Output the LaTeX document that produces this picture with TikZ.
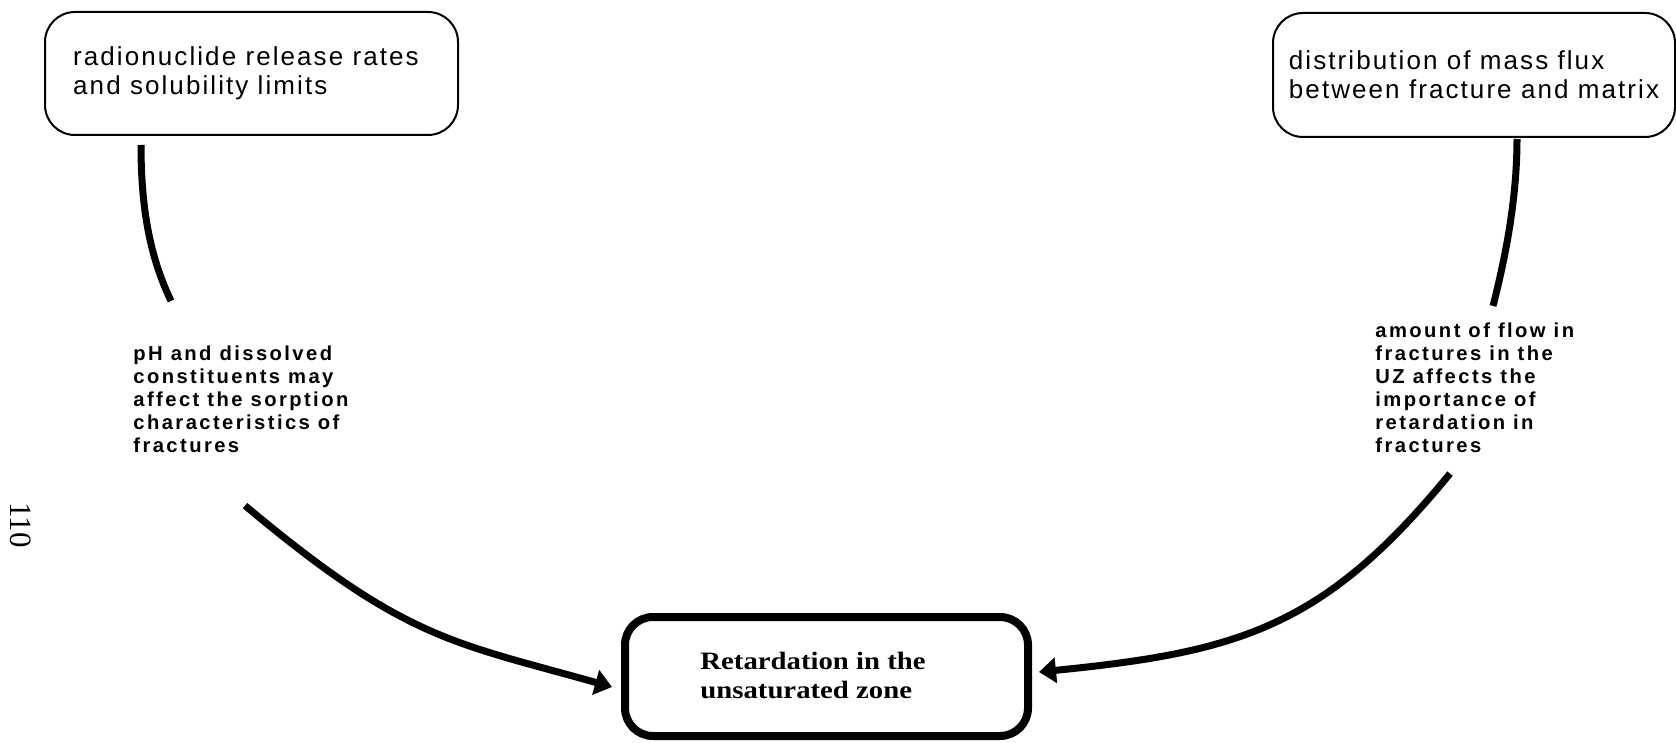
\documentclass[tikz,border=0pt]{standalone}
\usepackage{fontspec}
\usetikzlibrary{arrows.meta}

\newfontfamily\boxfont[LetterSpace=8]{Liberation Sans}
\newfontfamily\notefont[LetterSpace=12]{Liberation Sans}
\newfontfamily\titlefont[FakeStretch=1.15]{Liberation Serif}
\newfontfamily\pagefont{Liberation Serif}

% stacked lines with a fixed baseline distance; baseline = first line
\newcommand\linestack[2]{\vtop{\baselineskip=#1\lineskiplimit=-\maxdimen\lineskip=0pt #2}}

\tikzset{
  srcbox/.style={draw, line width=1pt, rounded corners=15pt, inner sep=0pt,
    font=\boxfont\fontsize{13}{14.25}\selectfont},
  sinkbox/.style={draw, line width=4pt, rounded corners=14pt, inner sep=0pt},
  note/.style={inner sep=0pt, anchor=base west,
    font=\notefont\bfseries\fontsize{10.1}{11.5}\selectfont},
  link/.style={line width=3.5pt},
  arrowlink/.style={link, -{Triangle[length=8.5pt,width=12.5pt]}}
}

\begin{document}
\begin{tikzpicture}[x=0.5pt,y=-0.5pt]
\useasboundingbox (0,0) rectangle (1676,743);

% source boxes
\node[srcbox, minimum width=206.5pt, minimum height=61.5pt] (release) at (251.5,73.5)
  {\linestack{14.25pt}{\hbox{radionuclide release rates}\hbox{and solubility limits}}\kern5.5pt};
\node[srcbox, minimum width=201pt, minimum height=62pt] (flux) at (1474,75)
  {\linestack{14.5pt}{\hbox{distribution of mass flux}\hbox{between fracture and matrix}}};

% explanatory notes
\node[note] (sorption) at (133,360)
  {\linestack{11.5pt}{\hbox{pH and dissolved}\hbox{constituents may}\hbox{affect the sorption}\hbox{characteristics of}\hbox{fractures}}};
\node[note] (flowfrac) at (1375,337)
  {\linestack{11.5pt}{\hbox{amount of flow in}\hbox{fractures in the}\hbox{UZ affects the}\hbox{importance of}\hbox{retardation in}\hbox{fractures}}};

% target box
\node[sinkbox, minimum width=201.5pt, minimum height=59.5pt] (retard) at (826.5,676.5) {};
\node[inner sep=0pt, anchor=base west, font=\titlefont\bfseries\fontsize{12.5}{14.5}\selectfont]
  (retardtext) at (700,669)
  {\linestack{14.75pt}{\hbox{Retardation in the}\hbox{unsaturated zone}}};

% page number
\node[rotate=-90, inner sep=0pt, font=\pagefont\fontsize{15.5}{15.5}\selectfont] (pageno) at (21,525) {110};

% connectors
\draw[link] ([shift={(97,9)}]release.south west) .. controls +(0,70) and +(-19,-40) ..
  ([shift={(38,-44)}]sorption.north west);
\draw[arrowlink] ([shift={(112,53)}]sorption.south west) .. controls +(160,134) and +(-160,-45) ..
  ([shift={(-9,10.5)}]retard.west);

\draw[link] ([shift={(245,1)}]flux.south west) .. controls +(0,61) and +(12,-47) ..
  ([shift={(118,-16)}]flowfrac.north west);
\draw[arrowlink] ([shift={(75,21)}]flowfrac.south west) .. controls +(-126,154) and +(200,-20) ..
  ([shift={(7,-4.5)}]retard.east);
\end{tikzpicture}
\end{document}
